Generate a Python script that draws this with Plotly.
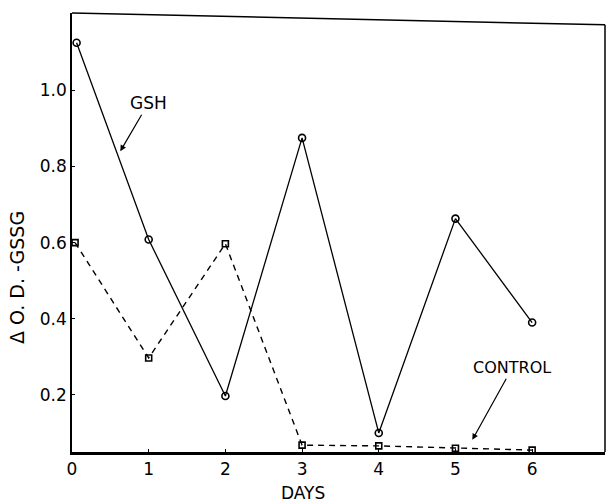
import plotly.graph_objects as go

days_gsh = [0.06, 1, 2, 3, 4, 5, 6]
gsh = [1.125, 0.608, 0.197, 0.875, 0.10, 0.663, 0.39]
days_ctrl = [0.04, 1, 2, 3, 4, 5, 6]
control = [0.60, 0.297, 0.597, 0.068, 0.066, 0.060, 0.055]
x_ticks = [0, 1, 2, 3, 4, 5, 6]
y_ticks = [0.2, 0.4, 0.6, 0.8, 1.0]
y_tick_text = ["0.2", "0.4", "0.6", "0.8", "1.0"]

FONT = "DejaVu Sans"

fig = go.Figure()
fig.add_trace(go.Scatter(
    x=days_gsh, y=gsh, mode="lines+markers",
    line=dict(color="black", width=1.3),
    marker=dict(symbol="circle-open", size=7, color="black", line=dict(width=1.6)),
    showlegend=False))
fig.add_trace(go.Scatter(
    x=days_ctrl, y=control, mode="lines+markers",
    line=dict(color="black", width=1.4, dash="6px,5px"),
    marker=dict(symbol="square-open", size=6, color="black", line=dict(width=1.6)),
    showlegend=False))

fig.update_layout(
    width=608, height=503,
    margin=dict(l=72, r=3, t=13, b=51),
    paper_bgcolor="white", plot_bgcolor="white",
    font=dict(family=FONT, size=17, color="black"),
    xaxis=dict(range=[0, 6.95], tickvals=x_ticks, ticktext=[str(v) for v in x_ticks],
               showgrid=False, zeroline=False, showline=True, linecolor="black",
               linewidth=2.5, ticks="inside", ticklen=3, tickcolor="black",
               tickfont=dict(family=FONT, size=17)),
    yaxis=dict(range=[0.05, 1.203], tickvals=y_ticks, ticktext=y_tick_text,
               showgrid=False, zeroline=False, showline=True, linecolor="black",
               linewidth=1.5, ticks="inside", ticklen=3, tickcolor="black",
               tickfont=dict(family=FONT, size=17)),
    shapes=[
        dict(type="line", xref="paper", yref="paper", x0=0, y0=1, x1=1, y1=0.973,
             line=dict(color="black", width=1.5)),
        dict(type="line", xref="paper", yref="paper", x0=1, y0=0.973, x1=1, y1=0,
             line=dict(color="black", width=1.5)),
    ],
    annotations=[
        dict(text="GSH", x=0.63, y=0.84, xref="x", yref="y", ax=28, ay=-48,
             showarrow=True, arrowhead=2, arrowsize=1, arrowwidth=1.2,
             arrowcolor="black", font=dict(family=FONT, size=17)),
        dict(text="CONTROL", x=5.22, y=0.082, xref="x", yref="y", ax=40, ay=-72,
             showarrow=True, arrowhead=2, arrowsize=1, arrowwidth=1.2,
             arrowcolor="black", font=dict(family=FONT, size=16)),
        dict(text="DAYS", showarrow=False, font=dict(family=FONT, size=17)),
        dict(text="\u0394 O. D. -GSSG", textangle=-90, showarrow=False,
             font=dict(family=FONT, size=19)),
    ],
)
# position label annotations in paper pixel coordinates
plot_w = 608 - 72 - 3
plot_h = 503 - 13 - 51
fig.layout.annotations[2].update(xref="paper", yref="paper",
                                 x=(303 - 72) / plot_w, y=-(493 - 452) / plot_h,
                                 xanchor="center", yanchor="middle")
fig.layout.annotations[3].update(xref="paper", yref="paper",
                                 x=-(72 - 17) / plot_w, y=(452 - 278) / plot_h,
                                 xanchor="center", yanchor="middle")

fig.write_html("out.html")
